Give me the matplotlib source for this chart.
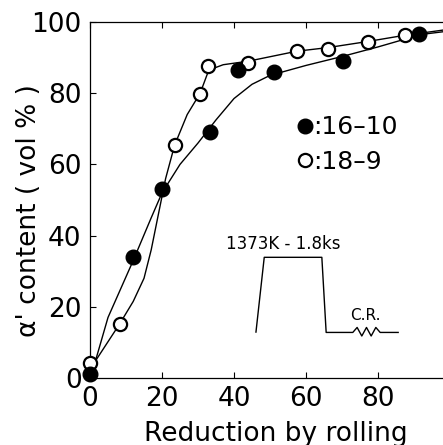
import numpy as np
import matplotlib.pyplot as plt
from matplotlib.lines import Line2D

plt.rcParams['font.family'] = ['DejaVu Sans']

# measured points, reduction by rolling (%) vs alpha' content (vol %)
red_1610 = [0, 12, 20, 33.2, 41, 51, 70.4, 91.3]
alpha_1610 = [1, 34, 53.2, 69, 86.5, 86, 89, 96.5]

red_189 = [0, 8.3, 23.5, 30.6, 32.9, 43.9, 57.5, 66.1, 77.1, 87.6]
alpha_189 = [4.3, 15.3, 65.4, 79.7, 87.7, 88.4, 91.8, 92.5, 94.4, 96.3]

# hand drawn guide curves
curve_1610_x = [1, 5, 12, 17, 20, 25, 30, 35, 40, 45, 50, 60, 70, 80, 92, 100]
curve_1610_y = [3, 17, 33, 45, 52, 60, 66, 72.5, 78.5, 82.5, 85, 87.8, 90.3, 93, 96.5, 97.5]
curve_189_x = [1, 8.3, 12, 15, 17, 19, 21, 23.5, 27, 30.6, 33, 37, 44, 57.5, 66, 77, 87.6, 95, 100]
curve_189_y = [4, 15.3, 21.5, 28, 36, 46, 56, 65.4, 74, 80, 86.5, 88, 89, 91.8, 92.8, 94.5, 96.3, 97.3, 98]

# heat treatment schematic (inset)
sch_x = [46.1, 48.4, 64.4, 65.6, 73, 74.2, 75.5, 76.8, 78.1, 79.4, 80.6, 85.6]
sch_y = [12.9, 33.9, 33.9, 12.8, 12.8, 14.2, 11.8, 14.2, 11.8, 14.2, 12.8, 12.8]

fig = plt.figure(figsize=(4.43, 4.45), dpi=100)
ax = fig.add_axes([90/443, 67/445, 360/443, 356/445])

ax.plot(curve_1610_x, curve_1610_y, 'k-', lw=1.0)
ax.plot(curve_189_x, curve_189_y, 'k-', lw=1.0)
ax.plot(red_1610, alpha_1610, 'o', color='k', ms=10.5, mec='k', clip_on=False, zorder=4)
ax.plot(red_189, alpha_189, 'o', mfc='white', mec='k', mew=1.6, ms=9.5, clip_on=False, zorder=3)

ax.plot(sch_x, sch_y, 'k-', lw=1.0)
ax.text(53.8, 37.7, '1373K - 1.8ks', fontsize=12, ha='center', va='center')
ax.text(76.5, 17.6, 'C.R.', fontsize=11, ha='center', va='center')

handles = [Line2D([], [], ls='', marker='o', color='k', ms=10.5),
           Line2D([], [], ls='', marker='o', mfc='white', mec='k', mew=1.6, ms=9.5)]
ax.legend(handles, [':16–10', ':18–9'], loc='upper left', bbox_to_anchor=(0.575, 0.738),
          frameon=False, fontsize=18, handlelength=0.6, handletextpad=0.05,
          labelspacing=0.42, borderpad=0, borderaxespad=0)

ax.set_xlim(0, 100)
ax.set_ylim(0, 100)
ax.set_xticks([0, 20, 40, 60, 80])
ax.set_yticks([0, 20, 40, 60, 80, 100])
ax.tick_params(direction='in', length=4, width=0.8, labelsize=19, pad=6,
               top=True, right=True)
for s in ax.spines.values():
    s.set_linewidth(0.9)

fig.text(0.065, 0.527, "α' content ( vol % )", rotation=90, fontsize=19,
         ha='center', va='center')
fig.text(0.623, 0.01, 'Reduction by rolling', fontsize=19, ha='center', va='baseline')

plt.savefig('out.png', dpi=100)
